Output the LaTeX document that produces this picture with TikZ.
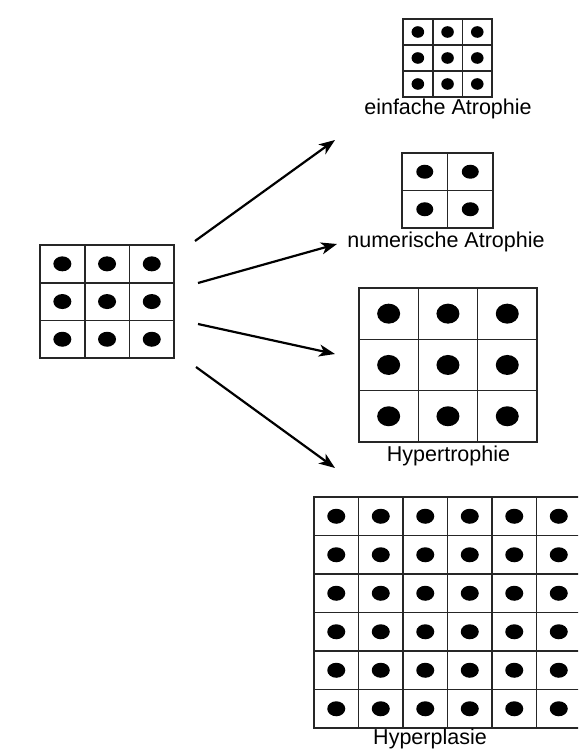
\documentclass[tikz,border=0pt]{standalone}
\usepackage{fontspec}
\setmainfont{Liberation Sans}
\usetikzlibrary{arrows.meta}

% A block of cells: #1,#2 = top-left corner, #3 columns, #4 rows,
% #5,#6 = cell width and height, #7,#8 = nucleus radii
\newcommand\tissue[8]{%
  \foreach \c in {1,...,#3}{%
    \foreach \r in {1,...,#4}{%
      \fill[nucleus] ({#1+#5*\c-#5/2},{#2+#6*\r-#6/2}) ellipse[x radius=#7pt, y radius=#8pt];
    }%
  }%
  \pgfmathtruncatemacro\lastc{#3-1}%
  \pgfmathtruncatemacro\lastr{#4-1}%
  \foreach \c in {1,...,\lastc}{%
    \draw[cellline] ({#1+#5*\c},#2) -- ++(0,{#4*#6});
  }%
  \foreach \r in {1,...,\lastr}{%
    \draw[cellline] (#1,{#2+#6*\r}) -- ++({#3*#5},0);
  }%
  \draw[frame] (#1,#2) rectangle ++({#3*#5},{#4*#6});
}

\begin{document}
\begin{tikzpicture}[x=1pt,y=-1pt,
  frame/.style={line width=2.3pt, draw=black!85},
  cellline/.style={line width=1.6pt, draw=black!85},
  nucleus/.style={fill=black},
  caption/.style={font=\fontsize{21.5}{24}\selectfont, inner sep=0pt, anchor=base},
  link/.style={line width=2.2pt, -{Stealth[length=16pt,width=12pt,inset=4.5pt]}}]

\useasboundingbox[fill=white] (0,0) rectangle (578,751);

% starting tissue
\tissue{40}{245}{3}{3}{44.7}{37.7}{9}{7.5}

% simple atrophy
\tissue{403}{19}{3}{3}{29.7}{26}{6.3}{5.8}
\node[caption] (simple) at (448,115) {einfache Atrophie};

% numerical atrophy
\tissue{402}{153}{2}{2}{45.5}{37.5}{8.5}{7}
\node[caption] (numeric) at (446,247) {numerische Atrophie};

% hypertrophy
\tissue{359}{288}{3}{3}{59.3}{51.3}{11.5}{10}
\node[caption] (hypertrophy) at (448.5,461) {Hypertrophie};

% hyperplasia, running past the right edge
\begin{scope}
  \clip (0,0) rectangle (578,751);
  \tissue{314}{497}{6}{6}{44.5}{38.5}{9}{7.5}
\end{scope}
\node[caption] (hyperplasia) at (430,744.5) {Hyperplasie};

% arrows
\coordinate (s1) at (195,241); \coordinate (t1) at (335,140);
\coordinate (s2) at (198,283); \coordinate (t2) at (337,244);
\coordinate (s3) at (198,324); \coordinate (t3) at (335,354);
\coordinate (s4) at (196,367); \coordinate (t4) at (335,468);
\draw[link] (s1) -- (t1);
\draw[link] (s2) -- (t2);
\draw[link] (s3) -- (t3);
\draw[link] (s4) -- (t4);
\end{tikzpicture}
\end{document}
